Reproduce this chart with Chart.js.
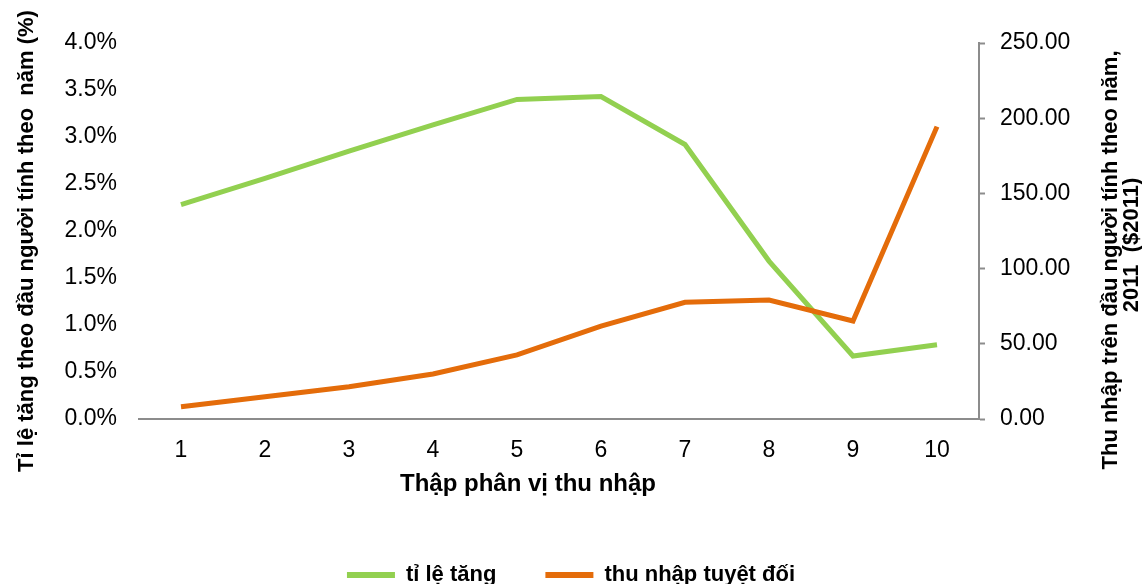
<!DOCTYPE html>
<html lang="vi">
<head>
<meta charset="utf-8">
<title>Thập phân vị thu nhập</title>
<script src="https://cdn.jsdelivr.net/npm/chart.js@4/dist/chart.umd.min.js"></script>
<style>
  html, body { margin: 0; padding: 0; background: #ffffff; }
  #wrap { width: 1142px; height: 584px; }
</style>
</head>
<body>
<div id="wrap"><canvas id="chart" width="1142" height="584"></canvas></div>
<script>
// Income deciles
const deciles = ['1', '2', '3', '4', '5', '6', '7', '8', '9', '10'];
// Annual per-capita growth rate (%)
const growthRate = [2.28, 2.56, 2.85, 3.13, 3.40, 3.43, 2.92, 1.68, 0.67, 0.79];
// Absolute annual per-capita income gain, 2011 dollars
const absoluteIncome = [8.2, 14.8, 21.5, 29.9, 42.6, 61.8, 77.6, 79.1, 65.2, 194.4];

const seriesNames = ['tỉ lệ tăng', 'thu nhập tuyệt đối'];
const xTitle = 'Thập phân vị thu nhập';
const leftTitle = 'Tỉ lệ tăng theo đầu người tính theo  năm (%)';
const rightTitleLines = ['Thu nhập trên đầu người tính theo năm,', '2011  ($2011)'];

const GREEN = '#92D050';
const ORANGE = '#E46C0A';
const AXIS = '#8C8C8C';
const FONT = "'Liberation Sans', Arial, sans-serif";

// Axis titles drawn beside the plot area
const axisTitles = {
  id: 'axisTitles',
  afterDraw(chart) {
    const ctx = chart.ctx;
    const area = chart.chartArea;
    ctx.save();
    ctx.fillStyle = '#000000';
    ctx.textAlign = 'center';
    ctx.textBaseline = 'alphabetic';

    ctx.font = 'bold 24px ' + FONT;
    ctx.fillText(xTitle, area.left + 389, 491);

    ctx.font = 'bold 22px ' + FONT;
    ctx.save();
    ctx.translate(33, 241);
    ctx.rotate(-Math.PI / 2);
    ctx.fillText(leftTitle, 0, 0);
    ctx.restore();

    ctx.save();
    ctx.translate(1117, 260);
    ctx.rotate(-Math.PI / 2);
    ctx.fillText(rightTitleLines[0], 0, 0);
    ctx.restore();

    ctx.save();
    ctx.translate(1138, 245);
    ctx.rotate(-Math.PI / 2);
    ctx.fillText(rightTitleLines[1], 0, 0);
    ctx.restore();

    ctx.restore();
  }
};

const PLOT_BOTTOM = 419;
const BOTTOM_PAD = -12;

new Chart(document.getElementById('chart'), {
  type: 'line',
  data: {
    labels: deciles,
    datasets: [
      {
        label: seriesNames[0],
        data: growthRate,
        yAxisID: 'yRate',
        borderColor: GREEN,
        backgroundColor: GREEN,
        borderWidth: 5,
        pointRadius: 0,
        tension: 0,
        order: 1
      },
      {
        label: seriesNames[1],
        data: absoluteIncome,
        yAxisID: 'yIncome',
        borderColor: ORANGE,
        backgroundColor: ORANGE,
        borderWidth: 5,
        pointRadius: 0,
        tension: 0,
        order: 0
      }
    ]
  },
  options: {
    responsive: false,
    devicePixelRatio: 1,
    animation: false,
    layout: { padding: { top: 43, left: 0, right: 0, bottom: BOTTOM_PAD } },
    plugins: {
      tooltip: { enabled: false },
      legend: {
        position: 'bottom',
        labels: {
          boxWidth: 48,
          boxHeight: 6,
          padding: 49,
          color: '#000000',
          font: { family: FONT, size: 22, weight: 'bold' },
          sort: (a, b) => a.datasetIndex - b.datasetIndex,
          generateLabels(chart) {
            return chart.data.datasets.map((ds, i) => ({
              text: ds.label,
              fillStyle: ds.borderColor,
              strokeStyle: ds.borderColor,
              lineWidth: 0,
              hidden: false,
              datasetIndex: i
            }));
          }
        }
      }
    },
    scales: {
      x: {
        type: 'category',
        offset: true,
        grid: { display: false, drawTicks: false },
        border: { display: true, color: AXIS, width: 2 },
        ticks: {
          color: '#000000',
          padding: 18,
          font: { family: FONT, size: 23 },
          maxRotation: 0
        },
        afterFit(scale) {
          const legendH = scale.chart.legend ? scale.chart.legend.height : 0;
          scale.height = scale.chart.height - BOTTOM_PAD - legendH - PLOT_BOTTOM;
        }
      },
      yRate: {
        position: 'left',
        min: 0,
        max: 4,
        grid: { display: false, drawTicks: false },
        border: { display: false },
        ticks: {
          stepSize: 0.5,
          color: '#000000',
          padding: 22,
          font: { family: FONT, size: 23 },
          callback: (v) => Number(v).toFixed(1) + '%'
        },
        afterFit(scale) { scale.width = 139; }
      },
      yIncome: {
        position: 'right',
        min: 0,
        max: 250,
        grid: {
          display: true,
          drawOnChartArea: false,
          drawTicks: true,
          tickLength: 6,
          tickWidth: 2,
          color: AXIS
        },
        border: { display: true, color: AXIS, width: 2 },
        ticks: {
          stepSize: 50,
          color: '#000000',
          padding: 15,
          font: { family: FONT, size: 23 },
          callback: (v) => Number(v).toFixed(2)
        },
        afterFit(scale) { scale.width = 1142 - 979; }
      }
    }
  },
  plugins: [axisTitles]
});
</script>
</body>
</html>
